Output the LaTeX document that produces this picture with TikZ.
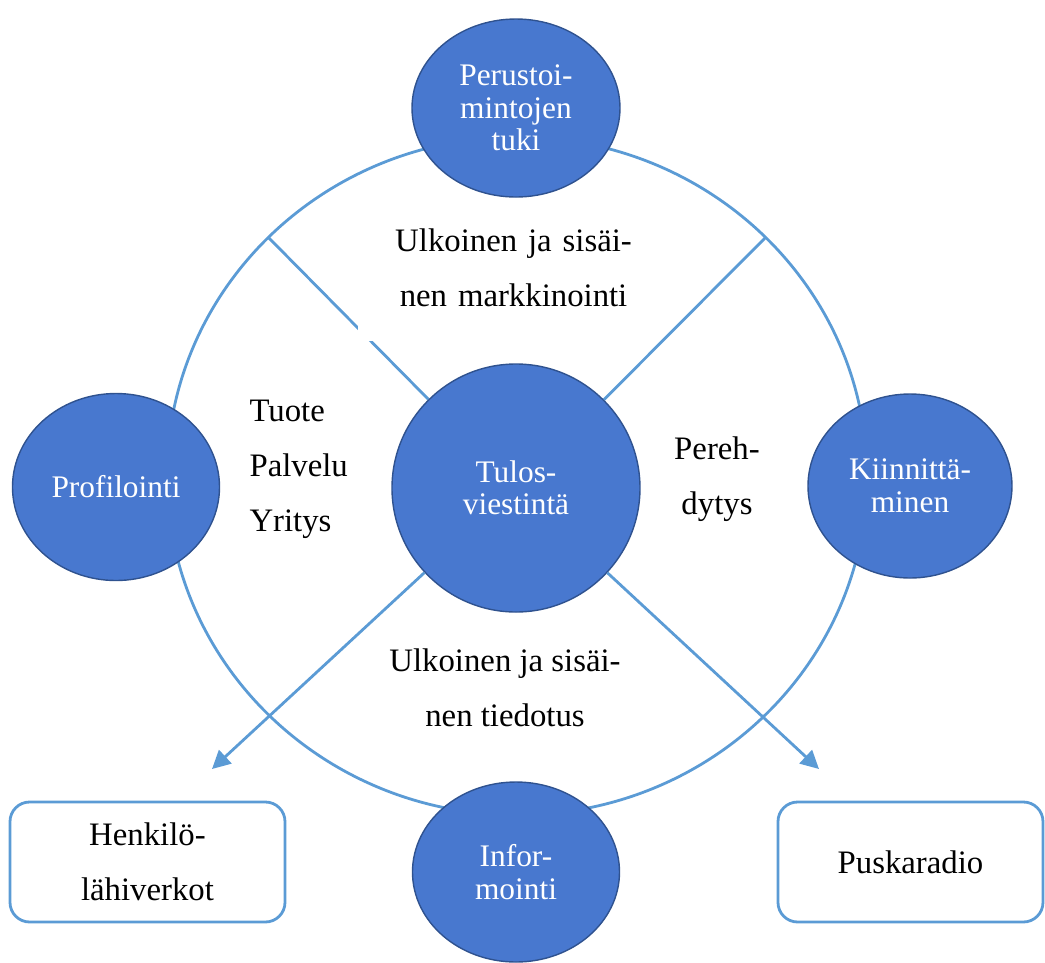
\documentclass[tikz,border=0pt]{standalone}
\usepackage{fontspec}
\setmainfont{Liberation Serif}
\usetikzlibrary{arrows.meta, shapes.geometric}
\definecolor{topicblue}{HTML}{4878CF}
\definecolor{topicedge}{HTML}{2F528F}
\definecolor{linkblue}{HTML}{5B9BD5}
\newcommand{\pxu}{0.357pt}

\begin{document}
\begin{tikzpicture}[
  x=0.357pt, y=-0.357pt,
  every node/.style={font=\fontsize{11.7}{19.6}\selectfont},
  topic/.style={ellipse, draw=topicedge, line width=0.5pt, fill=topicblue,
                inner sep=0pt, align=center, text=white,
                font=\fontsize{11.2}{11.6}\selectfont},
  box/.style={rectangle, draw=linkblue, line width=1pt, rounded corners=7pt,
              minimum height=120*\pxu, align=center},
  lbl/.style={inner sep=0pt},
  link/.style={draw=linkblue, line width=1pt},
  arrow/.style={link, -{Triangle[length=6.5pt, width=6.5pt]}},
]
\useasboundingbox (0,0) rectangle (1045,962);

\node[ellipse, draw=linkblue, line width=1pt, inner sep=0pt,
      minimum width=700*\pxu, minimum height=678*\pxu] (ring) at (517,476) {};

\node[topic, minimum size=248*\pxu] (tulos) at (516,488) {Tulos-\\viestintä};

\coordinate (ringNW) at (268,237);
\coordinate (ringNE) at (766,237);
\coordinate (tipW) at (212,769);
\coordinate (tipE) at (819,769);

\draw[link] (ringNW) -- (tulos);
\node[lbl, fill=white, text width=312*\pxu, minimum height=147*\pxu, align=center,
      anchor=south west] (markk) at (357,342) {Ulkoinen ja sisäi-\\nen markkinointi};
\draw[link] (ringNE) -- (tulos);
\draw[arrow] (tulos) -- (tipW);
\draw[arrow] (tulos) -- (tipE);

\node[topic, minimum width=208*\pxu, minimum height=178*\pxu] (perus) at (516,108)
      {Perustoi-\\mintojen\\tuki};
\node[topic, minimum width=207*\pxu, minimum height=187*\pxu] (profil) at (116,487)
      {Profilointi};
\node[topic, minimum width=204*\pxu, minimum height=184*\pxu] (kiinn) at (910,486)
      {Kiinnittä-\\minen};
\node[topic, minimum width=207*\pxu, minimum height=180*\pxu] (infor) at (516,872)
      {Infor-\\mointi};

\node[lbl, align=left, anchor=west] (prod) at (249,469) {Tuote\\Palvelu\\Yritys};
\node[lbl, align=center] (pereh) at (717,479.5) {Pereh-\\dytys};
\node[lbl, align=center] (tiedot) at (505,688) {Ulkoinen ja sisäi-\\nen tiedotus};

\node[box, minimum width=275*\pxu] (henk) at (147.5,862) {Henkilö-\\lähiverkot};
\node[box, minimum width=265*\pxu] (puska) at (910.5,862) {Puskaradio};
\end{tikzpicture}
\end{document}
